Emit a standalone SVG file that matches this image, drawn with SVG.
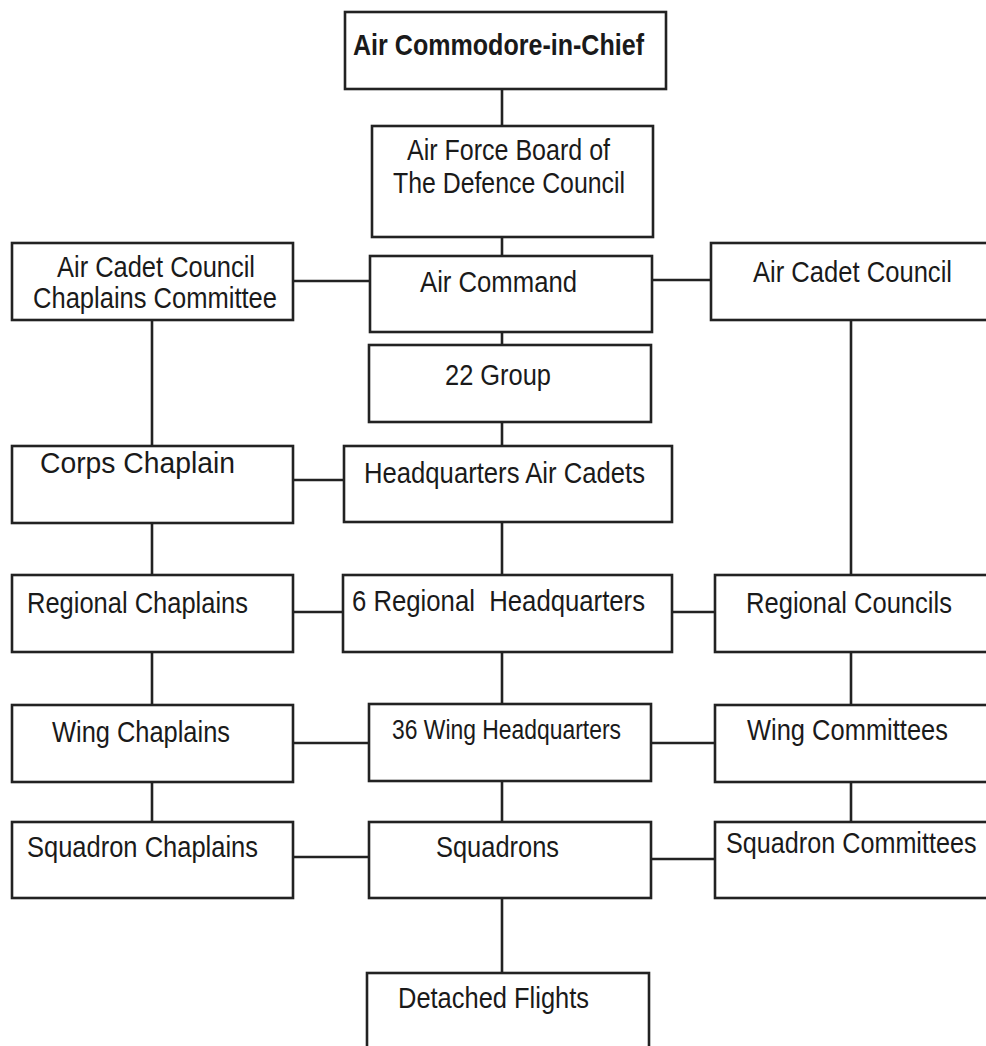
<svg xmlns="http://www.w3.org/2000/svg" width="986" height="1046" viewBox="0 0 986 1046">
<style>
.box{fill:#fff;stroke:#222;stroke-width:2.6}
.ln{stroke:#222;stroke-width:2.6;fill:none}
text{font-family:"Liberation Sans",Arial,sans-serif;font-size:30px;fill:#1a1a1a}
.b{font-weight:bold;font-size:30px}
.s{font-size:27px}
</style>
<rect width="986" height="1046" fill="#fff"/>
<g id="connectors">
<path class="ln" d="M502 89V126M502 237V256M502 332V345M502 422V446M502 522V575M502 652V704M502 781V822M502 898V973"/>
<path class="ln" d="M152 320V446M152 523V575M152 652V705M152 782V822"/>
<path class="ln" d="M851 320V575M851 652V705M851 782V822"/>
<path class="ln" d="M293 281H370M652 280H711M293 480H344M293 612H343M672 612H715M293 743H369M651 743H715M293 857H369M651 859H715"/>
</g>
<g id="n-commodore"><rect class="box" x="345" y="12" width="321" height="77"/><text class="b" x="353" y="55" textLength="291" lengthAdjust="spacingAndGlyphs">Air Commodore-in-Chief</text></g>
<g id="n-board"><rect class="box" x="372" y="126" width="281" height="111"/><text x="407" y="160" textLength="203" lengthAdjust="spacingAndGlyphs">Air Force Board of</text><text x="393" y="193" textLength="232" lengthAdjust="spacingAndGlyphs">The Defence Council</text></g>
<g id="n-aircommand"><rect class="box" x="370" y="256" width="282" height="76"/><text x="420" y="292" textLength="157" lengthAdjust="spacingAndGlyphs">Air Command</text></g>
<g id="n-acc-chaplains"><rect class="box" x="12" y="243" width="281" height="77"/><text x="57" y="277" textLength="198" lengthAdjust="spacingAndGlyphs">Air Cadet Council</text><text x="33" y="308" textLength="244" lengthAdjust="spacingAndGlyphs">Chaplains Committee</text></g>
<g id="n-acc"><rect class="box" x="711" y="243" width="290" height="77"/><text x="753" y="282" textLength="199" lengthAdjust="spacingAndGlyphs">Air Cadet Council</text></g>
<g id="n-22group"><rect class="box" x="369" y="345" width="282" height="77"/><text x="445" y="385" textLength="106" lengthAdjust="spacingAndGlyphs">22 Group</text></g>
<g id="n-corps"><rect class="box" x="12" y="446" width="281" height="77"/><text x="40" y="473" textLength="195" lengthAdjust="spacingAndGlyphs">Corps Chaplain</text></g>
<g id="n-hqac"><rect class="box" x="344" y="446" width="328" height="76"/><text x="364" y="483" textLength="281" lengthAdjust="spacingAndGlyphs">Headquarters Air Cadets</text></g>
<g id="n-regchap"><rect class="box" x="12" y="575" width="281" height="77"/><text x="27" y="613" textLength="221" lengthAdjust="spacingAndGlyphs">Regional Chaplains</text></g>
<g id="n-reghq"><rect class="box" x="343" y="575" width="329" height="77"/><text x="352" y="611" textLength="293" lengthAdjust="spacingAndGlyphs" xml:space="preserve">6 Regional  Headquarters</text></g>
<g id="n-regcouncils"><rect class="box" x="715" y="575" width="286" height="77"/><text x="746" y="613" textLength="206" lengthAdjust="spacingAndGlyphs">Regional Councils</text></g>
<g id="n-wingchap"><rect class="box" x="12" y="705" width="281" height="77"/><text x="52" y="742" textLength="178" lengthAdjust="spacingAndGlyphs">Wing Chaplains</text></g>
<g id="n-winghq"><rect class="box" x="369" y="704" width="282" height="77"/><text class="s" x="392" y="739" textLength="229" lengthAdjust="spacingAndGlyphs">36 Wing Headquarters</text></g>
<g id="n-wingcomm"><rect class="box" x="715" y="705" width="286" height="77"/><text x="747" y="740" textLength="201" lengthAdjust="spacingAndGlyphs">Wing Committees</text></g>
<g id="n-sqnchap"><rect class="box" x="12" y="822" width="281" height="76"/><text x="27" y="857" textLength="231" lengthAdjust="spacingAndGlyphs">Squadron Chaplains</text></g>
<g id="n-sqns"><rect class="box" x="369" y="822" width="282" height="76"/><text x="436" y="857" textLength="123" lengthAdjust="spacingAndGlyphs">Squadrons</text></g>
<g id="n-sqncomm"><rect class="box" x="715" y="822" width="286" height="76"/><text transform="translate(726 853) scale(0.84 1)" x="0" y="0">Squadron Committees</text></g>
<g id="n-detached"><rect class="box" x="367" y="973" width="282" height="90"/><text x="398" y="1008" textLength="191" lengthAdjust="spacingAndGlyphs">Detached Flights</text></g>
</svg>
